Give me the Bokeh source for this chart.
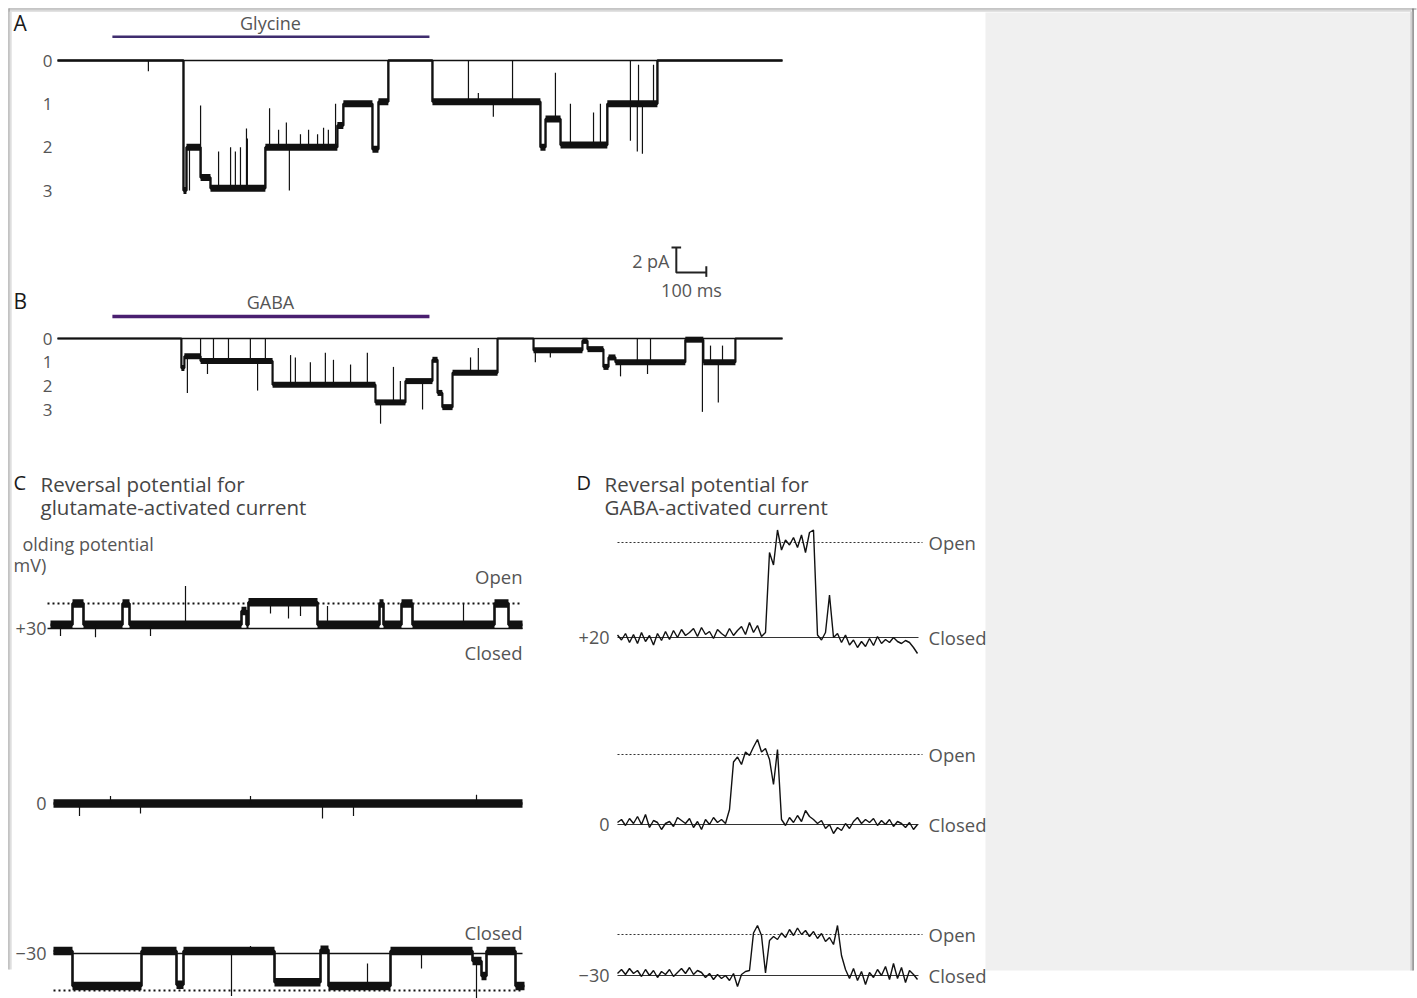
import numpy as np
from bokeh.plotting import figure
from bokeh.models import Range1d, Label
from bokeh.core.properties import value
from bokeh.embed import file_html
from bokeh.resources import INLINE

# ---------------- data ----------------
# Panel A (glycine): current expressed as number of open channels; time in ms
a_t = [0, 420, 430, 477, 510, 693, 933, 953, 1050, 1070, 1103, 1250, 1610, 1627, 1677, 1833, 2000, 2417]
a_lvl = [0, 3.0, 2.0, 2.7, 2.95, 2.0, 1.5, 1.0, 2.05, 0.95, 0, 0.95, 2.0, 1.35, 1.95, 1.0, 0, 0]
a_spike_t = [303, 440, 477, 537, 577, 593, 610, 630, 633, 707, 737, 763, 773, 810, 837, 867, 887, 903, 927,
             1370, 1403, 1453, 1517, 1660, 1710, 1787, 1810, 1910, 1910, 1933, 1937, 1950, 1987]
a_spike_to = [0.25, 3.0, 1.04, 2.1, 2.0, 2.1, 2.0, 1.57, 1.8, 1.1, 1.6, 1.43, 3.0, 1.7, 1.6, 1.7, 1.55, 1.6, 1.0,
              0.0, 0.75, 1.3, 0.0, 0.28, 1.0, 1.2, 1.0, 0.0, 1.85, 2.1, 0.1, 2.15, 0.1]

# Panel B (GABA)
b_t = [0, 413, 423, 477, 717, 1060, 1160, 1250, 1267, 1283, 1317, 1467, 1587, 1750, 1767, 1820, 1837, 1860, 2093, 2153, 2260, 2417]
b_lvl = [0, 1.25, 0.75, 0.95, 1.95, 2.7, 1.8, 0.9, 2.3, 2.9, 1.45, 0, 0.5, 0.1, 0.45, 1.2, 0.8, 1.0, 0.05, 1.0, 0, 0]
b_spike_t = [433, 477, 500, 520, 570, 643, 667, 693, 777, 793, 843, 893, 920, 977, 1033, 1077, 1120, 1143, 1217,
             1377, 1403, 1593, 1643, 1877, 1933, 1967, 1977, 2150, 2177, 2203, 2217]
b_spike_to = [2.3, 0.0, 1.5, 0.0, 0.0, 0.0, 2.2, 0.0, 0.7, 0.8, 1.0, 0.6, 0.9, 1.1, 0.6, 3.6, 1.2, 1.8, 3.0,
              0.8, 0.4, 1.0, 0.8, 1.6, 0.0, 1.5, 0.0, 3.1, 0.3, 2.7, 0.3]
trace_levels = [0, 1, 2, 3]
trace_level_labels = ["0", "1", "2", "3"]
drug_on, drug_off = 183, 1240

# Scale bar
sb_pa, sb_ms = 2, 100

# Panel C (glutamate), holding potentials +30, 0, -30 mV; time in ms, current in pA
c30_t = [0, 44, 66, 144, 158, 382, 392, 396, 534, 658, 666, 702, 724, 888, 916, 944]
c30_i = [0.15, 1.0, 0.15, 1.0, 0.15, 0.7, 0.15, 1.05, 0.15, 1.0, 0.15, 1.0, 0.15, 1.0, 0.15, 0.15]
c30_spike_t = [20, 90, 200, 270, 440, 476, 500, 554, 826]
c30_spike_to = [-0.3, -0.35, -0.3, 1.7, 0.6, 0.4, 0.5, 0.9, 1.0]
c0_t = [6, 944]
c0_i = [0.0, 0.0]
c0_spike_t = [58, 120, 180, 400, 544, 606, 852]
c0_spike_to = [-0.5, 0.3, -0.4, 0.3, -0.6, -0.5, 0.35]
cm30_t = [6, 44, 182, 252, 266, 448, 540, 556, 680, 844, 862, 872, 930, 948]
cm30_i = [0.1, -1.3, 0.1, -1.25, 0.1, -1.15, 0.15, -1.3, 0.1, -0.3, -0.9, 0.1, -1.3, -1.3]
cm30_spike_t = [362, 400, 634, 742, 852]
cm30_spike_to = [-1.7, 0.3, -0.4, -0.6, -1.9]
c_open = {"+30": 1.0, "-30": -1.48}

# Panel D (GABA), holding potentials +20, 0, -30 mV; sampled every 2 ms, current in pA
d_dt = 2.0
d20_i = [0.05, -0.05, 0.08, -0.10, 0.06, -0.12, 0.10, -0.08, 0.04, -0.15,
         0.08, -0.06, 0.12, -0.04, 0.14, 0.00, 0.16, 0.04, 0.10, 0.18,
         0.02, 0.20, 0.06, 0.12, -0.02, 0.16, 0.08, 0.02, 0.18, 0.04,
         0.14, 0.22, 0.06, 0.30, 0.10, 0.24, 0.02, 0.10, 1.70, 1.45,
         2.15, 1.75, 1.95, 1.85, 2.00, 1.80, 2.05, 1.70, 2.10, 2.15,
         0.05, -0.05, 0.10, 0.85, 0.00, 0.08, -0.10, 0.05, -0.15, -0.05,
         -0.20, -0.08, -0.18, -0.02, -0.16, 0.02, -0.12, -0.04, -0.10, 0.00,
         -0.08, -0.12, -0.06, -0.10, -0.20, -0.32]
d0_i = [0.04, 0.10, -0.02, 0.12, 0.02, 0.16, 0.00, 0.20, -0.06, 0.08,
        0.04, -0.10, 0.02, 0.06, -0.04, 0.14, 0.08, 0.02, 0.12, -0.06,
        0.06, -0.10, 0.10, 0.00, 0.14, 0.04, 0.10, 0.02, 0.30, 1.25,
        1.35, 1.20, 1.45, 1.38, 1.55, 1.70, 1.45, 1.52, 1.30, 0.80,
        1.50, 0.10, -0.02, 0.14, 0.04, 0.18, 0.06, 0.28, 0.16, 0.10,
        0.02, 0.08, -0.08, 0.00, -0.18, -0.06, -0.12, 0.02, -0.08, 0.06,
        0.14, 0.02, 0.10, 0.04, 0.12, -0.02, 0.08, 0.00, 0.10, -0.04,
        0.06, 0.02, -0.06, 0.04, -0.10, 0.00]
dm30_i = [0.04, 0.12, 0.02, 0.14, 0.04, 0.10, -0.02, 0.12, 0.00, 0.10,
          -0.04, 0.08, 0.02, 0.12, -0.02, 0.06, 0.14, 0.04, 0.16, 0.02,
          0.10, 0.06, -0.04, 0.04, -0.08, 0.02, -0.06, 0.00, -0.10, 0.04,
          -0.22, 0.02, 0.08, 0.10, 0.85, 1.00, 0.80, 0.05, 0.70, 0.78,
          0.72, 0.85, 0.76, 0.92, 0.80, 0.95, 0.82, 0.90, 0.78, 0.88,
          0.74, 0.84, 0.68, 0.76, 0.62, 1.00, 0.40, 0.12, -0.06, 0.14,
          -0.10, 0.08, -0.18, 0.06, -0.04, 0.12, 0.00, 0.18, -0.08, 0.24,
          -0.06, 0.16, -0.14, 0.10, 0.02, -0.08]
d_open = {"+20": 1.9, "0": 1.4, "-30": 0.82}

# ---------------- figure ----------------
W, H = 1417, 998
PX0, PX1 = 0, W
PY_BOT, PY_TOP = H, 0

p = figure(width=W, height=H, x_range=Range1d(PX0, PX1), y_range=Range1d(PY_BOT, PY_TOP),
           output_backend="svg", toolbar_location=None, min_border=0,
           x_axis_type=None, y_axis_type=None, outline_line_color=None,
           background_fill_color="white", border_fill_color="white")
p.grid.visible = False

FONT = "Open Sans"
INK = "#111111"
GREY_TXT = "#555555"
HEAD_TXT = "#454545"


def panel(name, t0, t1, X0, X1, v0, v1, Y0, Y1):
    kx = (t1 - t0) / (X1 - X0)
    p.extra_x_ranges[name + "_x"] = Range1d(t0 - (X0 - PX0) * kx, t0 + (PX1 - X0) * kx)
    ky = (v1 - v0) / (Y1 - Y0)
    p.extra_y_ranges[name + "_y"] = Range1d(v0 + (PY_BOT - Y0) * ky, v0 + (PY_TOP - Y0) * ky)
    return dict(x_range_name=name + "_x", y_range_name=name + "_y")


# page decoration: frame and grey side panel
p.quad(left=985, right=1411, top=12, bottom=970, fill_color="#f0f0f0", line_color=None)
p.segment(x0=[8, 8, 8.5, 10.2, 1412.5, 1410.8], y0=[8.5, 10.3, 8, 11, 8, 11],
          x1=[1416, 1411, 8.5, 10.2, 1412.5, 1410.8], y1=[8.5, 10.3, 969, 969, 970, 970],
          line_color=["#8c8c8c", "#d9d9d9", "#9a9a9a", "#dedede", "#7a7a7a", "#d0d0d0"],
          line_width=[1.2, 2, 1.2, 2, 1.5, 2])


def step_trace(rn, t, lvl, st, sto, band, thin=1.6, spike_w=1.2, thin_zero=True):
    t = np.asarray(t, float)
    lvl = np.asarray(lvl, float)
    # transitions and baseline drawn thin
    p.step(x=t, y=lvl, mode="after", line_color=INK, line_width=thin, **rn)
    # noisy open-state dwell bands drawn thick
    keep = np.ones(len(lvl) - 1, bool)
    if thin_zero:
        keep = np.abs(lvl[:-1]) > 0.02
    p.segment(x0=t[:-1][keep], y0=lvl[:-1][keep], x1=t[1:][keep], y1=lvl[:-1][keep],
              line_color=INK, line_width=band, line_cap="butt", **rn)
    st = np.asarray(st, float)
    idx = np.searchsorted(t, st, side="right") - 1
    base = lvl[idx]
    p.segment(x0=st, y0=base, x1=st, y1=sto, line_color=INK, line_width=spike_w, **rn)


def text(x, y, s, size, color=GREY_TXT, align="left", baseline="middle"):
    p.add_layout(Label(x=x, y=y, text=s, text_font=FONT, text_font_size=size, text_color=color,
                       text_align=align, text_baseline=baseline))


def gtext(x, y, s, rname, size, align="right", color=GREY_TXT):
    p.text(x=x, y=y, text=s, text_align=align, text_baseline="middle", text_font=value(FONT),
           text_font_size=size, text_color=color, y_range_name=rname)


# ---- Panel A ----
rA = panel("A", 0, 2417, 57, 782, 0, 3, 60, 190)
text(13, 22, "A", "21px", color="#1a1a1a")
text(270, 22, "Glycine", "18px", align="center")
p.segment(x0=[drug_on], y0=[-0.55], x1=[drug_off], y1=[-0.55], line_color="#3f2d6e", line_width=2.5, **rA)
gtext([52] * 4, trace_levels, trace_level_labels, "A_y", "17px")
p.line(x=[a_t[0], a_t[-1]], y=[0, 0], line_color=INK, line_width=1.5, **rA)
step_trace(rA, a_t, a_lvl, a_spike_t, a_spike_to, 7, thin=2.4)

# ---- Panel B ----
rB = panel("B", 0, 2417, 57, 782, 0, 3, 338, 409)
text(13, 300, "B", "21px", color="#1a1a1a")
text(270, 301, "GABA", "18px", align="center")
p.segment(x0=[drug_on], y0=[-0.93], x1=[drug_off], y1=[-0.93], line_color="#4a1f70", line_width=3.5, **rB)
gtext([52] * 4, trace_levels, trace_level_labels, "B_y", "17px")
p.line(x=[b_t[0], b_t[-1]], y=[0, 0], line_color=INK, line_width=1.5, **rB)
step_trace(rB, b_t, b_lvl, b_spike_t, b_spike_to, 6, thin=2.2)

# ---- Scale bar ----
rS = panel("S", 0, 2417, 57, 782, 0, 2, 272, 247)
sb_t0 = 2063
p.multi_line(xs=[[sb_t0, sb_t0, sb_t0 + sb_ms], [sb_t0 - 16, sb_t0 + 16], [sb_t0 + sb_ms, sb_t0 + sb_ms]],
             ys=[[sb_pa, 0, 0], [sb_pa, sb_pa], [-0.35, 0.5]],
             line_color="#222222", line_width=2, **rS)
text(669, 260, f"{sb_pa} pA", "18px", align="right")
text(691, 289, f"{sb_ms} ms", "18px", align="center")

# ---- Panel C ----
text(13, 482, "C", "20px", color="#1a1a1a")
text(40, 483, "Reversal potential for", "20.5px", color=HEAD_TXT)
text(40, 506, "glutamate-activated current", "20.5px", color=HEAD_TXT)
text(22, 543, "olding potential", "18px")
text(13, 564, "mV)", "18px")

rC30 = panel("C30", 0, 944, 50, 522, 0, 1, 628, 603)
p.line(x=[-6, 944], y=[0, 0], line_color=INK, line_width=1.5, **rC30)
p.line(x=[-6, 944], y=[c_open["+30"]] * 2, line_color=INK, line_width=2, line_dash="2 3", **rC30)
step_trace(rC30, c30_t, c30_i, c30_spike_t, c30_spike_to, 8.5, thin=2.6, thin_zero=False)
gtext([46], [0], ["+30"], "C30_y", "18px")
text(522, 576, "Open", "18.5px", align="right")
text(522, 652, "Closed", "18.5px", align="right")

rC0 = panel("C0", 0, 944, 50, 522, 0, 1, 803, 778)
step_trace(rC0, c0_t, c0_i, c0_spike_t, c0_spike_to, 8.5, thin=2.6, thin_zero=False)
gtext([46], [0], ["0"], "C0_y", "18px")

rCm30 = panel("Cm30", 0, 944, 50, 522, 0, 1, 953, 928)
p.line(x=[6, 944], y=[0, 0], line_color=INK, line_width=1.5, **rCm30)
p.line(x=[6, 944], y=[c_open["-30"]] * 2, line_color=INK, line_width=2, line_dash="2 3", **rCm30)
step_trace(rCm30, cm30_t, cm30_i, cm30_spike_t, cm30_spike_to, 8.5, thin=2.6, thin_zero=False)
gtext([46], [0], ["\u221230"], "Cm30_y", "18px")
text(522, 932, "Closed", "18.5px", align="right")

# ---- Panel D ----
text(576, 482, "D", "20px", color="#1a1a1a")
text(604, 483, "Reversal potential for", "20.5px", color=HEAD_TXT)
text(604, 506, "GABA-activated current", "20.5px", color=HEAD_TXT)

d_traces = [("D20", "+20", d20_i, 637), ("D0", "0", d0_i, 824), ("Dm30", "\u221230", dm30_i, 975)]
d_keys = ["+20", "0", "-30"]
for (nm, lab, vals, y0), key in zip(d_traces, d_keys):
    r = panel(nm, 0, 150, 617, 917, 0, 1, y0, y0 - 50)
    t = np.arange(len(vals)) * d_dt
    p.line(x=[0, 150.5], y=[0, 0], line_color="#333333", line_width=1, **r)
    p.line(x=[0, 152.5], y=[d_open[key]] * 2, line_color="#333333", line_width=1.2, line_dash="2 2", **r)
    p.line(x=t, y=vals, line_color=INK, line_width=1.4, **r)
    gtext([609], [0], [lab], nm + "_y", "18px")
    gtext([928, 928], [d_open[key], 0], ["Open", "Closed"], nm + "_y", "18.5px", align="left")

open("out.html", "w").write(file_html(p, INLINE))
